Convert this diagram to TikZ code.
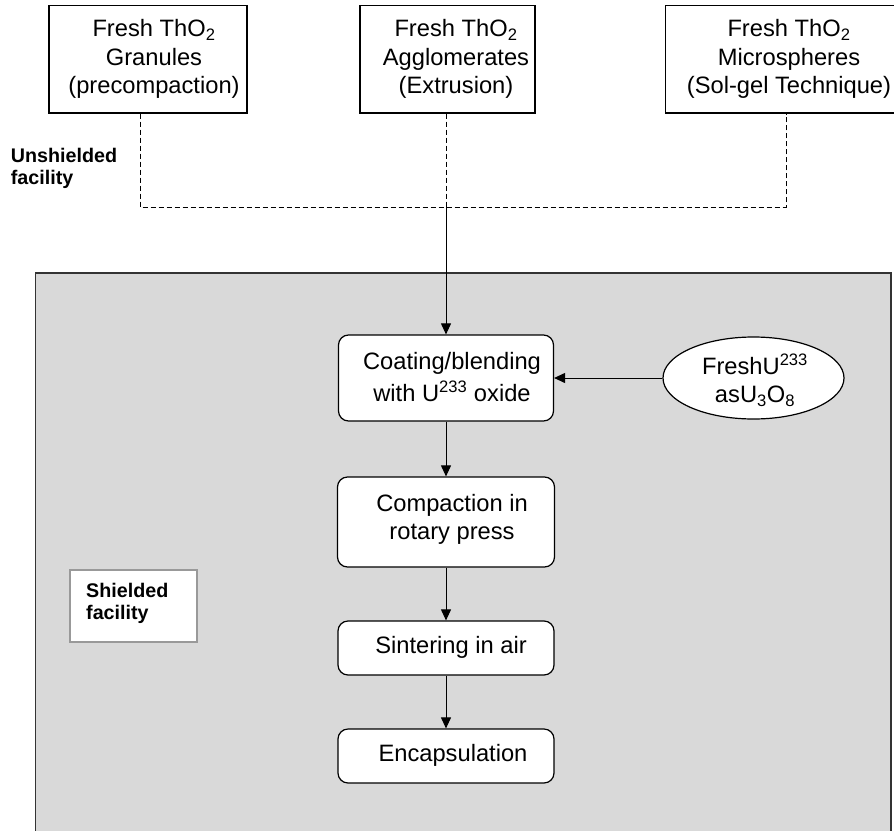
\documentclass[tikz,border=0pt]{standalone}
\usepackage{fontspec}
\setmainfont{Liberation Sans}
\usetikzlibrary{arrows.meta,shapes.geometric}
\begin{document}
\begin{tikzpicture}[x=1pt,y=-1pt,
  srcbox/.style={draw=black,line width=1.2pt,fill=white,minimum height=107.3pt,inner sep=0pt},
  procbox/.style={draw=black,line width=1.2pt,fill=white,rounded corners=10pt,inner sep=0pt},
  ellbox/.style={draw=black,line width=1.2pt,fill=white,ellipse,inner sep=0pt},
  maintext/.style={align=center,inner sep=0pt,font=\fontsize{23.7}{28.5}\selectfont},
  tagtext/.style={align=left,inner sep=0pt,anchor=west,font=\bfseries\fontsize{19.7}{22}\selectfont},
  tagbox/.style={draw=black!40,line width=1.3pt,fill=white,inner sep=0pt},
  zone/.style={draw=black!80,line width=1.2pt,fill=black!15},
  dashline/.style={draw=black,line width=1pt,dash pattern=on 5pt off 3pt},
  arr/.style={draw=black,line width=1pt,-{Triangle[length=11pt,width=10pt]}}
]
\useasboundingbox (0,0) rectangle (894,830);
\clip (0,0) rectangle (894,830);
\fill[white] (0,0) rectangle (894,830);
\draw[zone] (35.5,273) rectangle (891,845);

% source boxes
\node[srcbox, minimum width=198pt] (b1) at (148,59.35) {};
\node[maintext] (t1) at (154,59.35) {Fresh ThO\textsubscript{2}\\Granules\\(precompaction)};
\node[srcbox, minimum width=175pt] (b2) at (447.5,59.35) {};
\node[maintext] (t2) at (456,59.35) {Fresh ThO\textsubscript{2}\\Agglomerates\\(Extrusion)};
\node[srcbox, minimum width=234pt] (b3) at (782.7,59.35) {};
\node[maintext] (t3) at (789,59.35) {Fresh ThO\textsubscript{2}\\Microspheres\\(Sol-gel Technique)};

\node[tagtext] (unsh) at (10.7,168.8) {Unshielded\\facility};

% process chain
\node[procbox, minimum width=215pt, minimum height=86pt] (coat) at (446,378) {};
\node[maintext] (tcoat) at (452,377) {Coating/blending\\[3pt]with U\textsuperscript{233} oxide};
\node[ellbox, minimum width=181pt, minimum height=82pt] (ell) at (753.5,378) {};
\node[maintext] (tell) at (755,380) {FreshU\textsuperscript{233}\\asU\textsubscript{3}O\textsubscript{8}};
\node[procbox, minimum width=217pt, minimum height=90pt] (comp) at (446,522) {};
\node[maintext] (tcomp) at (452,519.5) {Compaction in\\rotary press};
\node[procbox, minimum width=216pt, minimum height=54pt] (sint) at (446,648) {};
\node[maintext] (tsint) at (451,647) {Sintering in air};
\node[procbox, minimum width=216pt, minimum height=54pt] (enc) at (446,756) {};
\node[maintext] (tenc) at (453,755.5) {Encapsulation};

\node[tagbox, minimum width=127pt, minimum height=72pt] (shb) at (133.5,606) {};
\node[tagtext] (shtxt) at (86,603.5) {Shielded\\facility};

% connectors
\coordinate (j1) at (140,207);
\coordinate (j2) at (446,207);
\coordinate (j3) at (786,207);
\draw[dashline] (j1 |- b1.south) -- (j1) -- (j3) -- (j3 |- b3.south);
\draw[dashline] (j2 |- b2.south) -- (j2);
\draw[arr] (j2) -- (coat.north);
\draw[arr] (ell.west) -- (coat.east);
\draw[arr] (coat.south) -- (comp.north);
\draw[arr] (comp.south) -- (sint.north);
\draw[arr] (sint.south) -- (enc.north);
\end{tikzpicture}
\end{document}
